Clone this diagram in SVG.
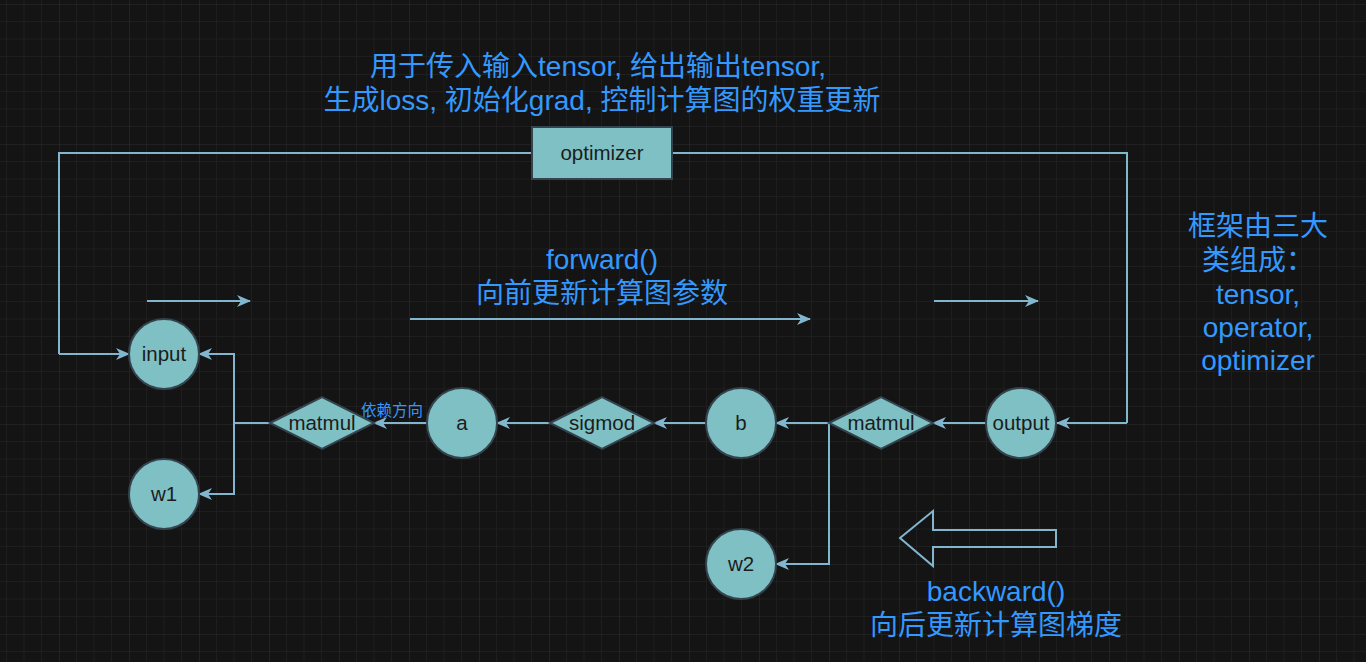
<svg xmlns="http://www.w3.org/2000/svg" width="1366" height="662" viewBox="0 0 1366 662">
<defs>
<pattern id="grid" patternUnits="userSpaceOnUse" x="59" y="4" width="70" height="70">
<path d="M17.5,0V70M35,0V70M52.5,0V70M0,17.5H70M0,35H70M0,52.5H70" stroke="#1e1e1e" stroke-width="1" fill="none"/>
<path d="M0,0V70M0,0H70" stroke="#2b2b2b" stroke-width="1.2" fill="none"/>
</pattern>
<marker id="arr" viewBox="0 0 14 12" refX="13" refY="6" markerWidth="14" markerHeight="12" markerUnits="userSpaceOnUse" orient="auto">
<path d="M0,0 L14,6 L0,12 L4,6 Z" fill="#82b6cf"/>
</marker>
</defs>
<style>
.node{fill:#7fc0c4;stroke:#34444e;stroke-width:2}
.lbl{font-family:"Liberation Sans",Arial,sans-serif;font-size:20.5px;fill:#1c1c1c;text-anchor:middle}
.edge{fill:none;stroke:#82b6cf;stroke-width:2;marker-end:url(#arr)}
.plain{fill:none;stroke:#82b6cf;stroke-width:2}
.note{font-family:"Liberation Sans","Noto Sans CJK SC",sans-serif;font-size:28px;fill:#3399ff;text-anchor:middle}
</style>
<rect width="1366" height="662" fill="#141414"/>
<rect width="1366" height="662" fill="url(#grid)"/>

<g id="connectors">
<path class="plain" d="M532,153 H59 V354"/>
<path class="edge" d="M59,354 H129"/>
<path class="plain" d="M672,153 H1127 V423"/>
<path class="edge" d="M1127,423 H1057"/>
<path class="edge" d="M986,423 H933"/>
<path class="edge" d="M829,423 H776"/>
<path class="edge" d="M829,423 V564 H776"/>
<path class="edge" d="M706,423 H654"/>
<path class="edge" d="M550,423 H497"/>
<path class="edge" d="M427,423 H374"/>
<path class="plain" d="M270,423 H234"/>
<path class="edge" d="M234,423 V354 H199"/>
<path class="edge" d="M234,423 V494 H199"/>
<path class="edge" d="M147,301 H250"/>
<path class="edge" d="M410,319 H810"/>
<path class="edge" d="M934,301 H1038"/>
<path d="M900,538 L933,511 L933,530 L1056,530 L1056,547 L933,547 L933,566 Z" fill="none" stroke="#82b6cf" stroke-width="2"/>
<text x="392" y="416" font-family="'Liberation Sans','Noto Sans CJK SC',sans-serif" font-size="15.5" fill="#3399ff" text-anchor="middle">依赖方向</text>
</g>

<g id="optimizer"><rect class="node" x="532" y="127" width="140" height="52"/><text class="lbl" x="602" y="160">optimizer</text></g>
<g id="input"><circle class="node" cx="164" cy="354" r="35"/><text class="lbl" x="164" y="361">input</text></g>
<g id="w1"><circle class="node" cx="164" cy="494" r="35"/><text class="lbl" x="164" y="501">w1</text></g>
<g id="matmul1"><path class="node" d="M270,423 L322,397 L374,423 L322,449 Z"/><text class="lbl" x="322" y="430">matmul</text></g>
<g id="a"><circle class="node" cx="462" cy="423" r="35"/><text class="lbl" x="462" y="430">a</text></g>
<g id="sigmod"><path class="node" d="M550,423 L602,397 L654,423 L602,449 Z"/><text class="lbl" x="602" y="430">sigmod</text></g>
<g id="b"><circle class="node" cx="741" cy="423" r="35"/><text class="lbl" x="741" y="430">b</text></g>
<g id="w2"><circle class="node" cx="741" cy="564" r="35"/><text class="lbl" x="741" y="571">w2</text></g>
<g id="matmul2"><path class="node" d="M829,423 L881,397 L933,423 L881,449 Z"/><text class="lbl" x="881" y="430">matmul</text></g>
<g id="output"><circle class="node" cx="1021" cy="423" r="35"/><text class="lbl" x="1021" y="430">output</text></g>

<g id="notes">
<text class="note" x="598" y="76">用于传入输入tensor, 给出输出tensor,</text>
<text class="note" x="602" y="110">生成loss, 初始化grad, 控制计算图的权重更新</text>
<text class="note" x="602" y="269">forward()</text>
<text class="note" x="602" y="303">向前更新计算图参数</text>
<text class="note" x="996" y="601">backward()</text>
<text class="note" x="996" y="635">向后更新计算图梯度</text>
<text class="note" x="1258" y="236">框架由三大</text>
<text class="note" x="1258" y="270">类组成：</text>
<text class="note" x="1258" y="304">tensor,</text>
<text class="note" x="1258" y="337">operator,</text>
<text class="note" x="1258" y="370">optimizer</text>
</g>
</svg>
